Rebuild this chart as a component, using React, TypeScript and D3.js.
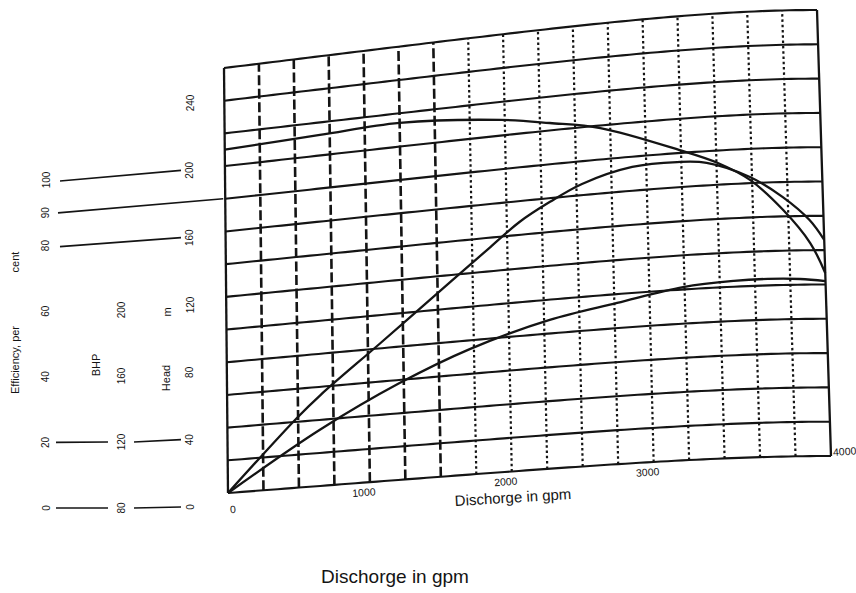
import * as d3 from "d3";

// ---- values ----
// discharge in gpm, head in m
const headFlow = [0, 680, 1250, 1970, 2320, 2680, 3240, 3510, 3735, 3965, 4150, 4250];
const headM = [210, 212.4, 214.2, 209.3, 204.4, 198.5, 181.7, 172.7, 161.9, 143.7, 124.2, 106.7];

// efficiency in per cent
const effFlow = [0, 490, 660, 1090, 1590, 1880, 2090, 2310, 2540, 2900, 3220, 3430, 3735, 3965, 4150, 4250];
const effPct = [0, 21.1, 27.5, 41.6, 57.9, 67.2, 73.8, 78.9, 83.3, 87, 87.4, 86.6, 81.8, 75.6, 68.8, 63];

// brake horse power
const bhpFlow = [0, 650, 1220, 1720, 2290, 2770, 3240, 3600, 3840, 4070, 4250];
const bhpVal = [80, 113.9, 138.1, 154.8, 168, 174.8, 181.4, 183.4, 183.8, 183.3, 182];

const xTicks = [0, 1000, 2000, 3000, 4000];
const effTicks = [0, 20, 40, 60, 80, 90, 100];
const bhpTicks = [80, 120, 160, 200];
const headTicks = [0, 40, 80, 120, 160, 200, 240];

const gridFlow = d3.range(0, 4251, 250);
const gridHead = d3.range(0, 261, 20);

const W = 856;
const H = 593;
const FONT = "'Liberation Sans', Arial, sans-serif";
const INK = "#141414";

// the scanned grid is warped: edges of the plot area on the page
const leftX = [228, 224]; // bottom, top
const rightX = [831, 817];
const bottomY = [493, 456]; // left, right
const topY = [68, 10];

const u = d3.scaleLinear().domain([0, 4250]).range([0, 1]);
const v = d3.scaleLinear().domain([0, 260]).range([0, 1]);
// the rows climb steadily and flatten towards the right edge
const warp = (a: number) => (a - Math.pow(a, 5) / 5) / 0.8;

function proj(q: number, h: number): [number, number] {
  const a = u(q);
  const b = v(h);
  const xl = leftX[0] + b * (leftX[1] - leftX[0]);
  const xr = rightX[0] + b * (rightX[1] - rightX[0]);
  const g = warp(a);
  const yb = bottomY[0] + g * (bottomY[1] - bottomY[0]);
  const yt = topY[0] + g * (topY[1] - topY[0]);
  return [xl + a * (xr - xl), yb + b * (yt - yb)];
}

// left hand label strip
const effY = d3.scaleLinear().domain([0, 100]).range([508, 180]);
const bhpY = d3.scaleLinear().domain([80, 200]).range([508, 310]);
const headY = d3.scaleLinear().domain([0, 240]).range([507, 103]);

const smooth = d3
  .line<[number, number]>()
  .x((d) => d[0])
  .y((d) => d[1])
  .curve(d3.curveCatmullRom.alpha(0.5));
const straight = d3.line<[number, number]>();

const sampleFlow = d3.range(0, 4251, 50);

export default function App() {
  const headPts = headFlow.map((q, i) => proj(q, headM[i]));
  const effPts = effFlow.map((q, i) => proj(q, effPct[i] * 2));
  const bhpPts = bhpFlow.map((q, i) => proj(q, bhpVal[i] - 80));

  const rotText = (x: number, y: number, s: string, size = 10) => (
    <text
      x={x}
      y={y}
      transform={`rotate(-90 ${x} ${y})`}
      textAnchor="middle"
      dominantBaseline="central"
      fontSize={size}
      fontFamily={FONT}
      fill={INK}
    >
      {s}
    </text>
  );

  const pointer = (x1: number, y1: number, x2: number, y2: number) => (
    <line x1={x1} y1={y1} x2={x2} y2={y2} stroke={INK} strokeWidth={1.7} />
  );

  return (
    <svg
      width={W}
      height={H}
      style={{ position: "absolute", left: 0, top: 0, background: "#fff" }}
    >
      <rect width={W} height={H} fill="#fff" />

      {/* vertical grid: dashed up to 1500 gpm, dotted after */}
      {gridFlow.map((q, i) => {
        const [x1, y1] = proj(q, 0);
        const [x2, y2] = proj(q, 260);
        const border = i === 0 || i === gridFlow.length - 1;
        const dashed = q <= 1500;
        return (
          <line
            key={"v" + i}
            x1={x1}
            y1={y1}
            x2={x2}
            y2={y2}
            stroke={INK}
            strokeWidth={border ? 2.3 : dashed ? 2.6 : 2.2}
            strokeDasharray={border ? undefined : dashed ? "10 3.5" : "2.5 2.8"}
          />
        );
      })}

      {/* horizontal grid */}
      {gridHead.map((h, i) => (
        <path
          key={"h" + i}
          d={straight(sampleFlow.map((q) => proj(q, h))) ?? ""}
          fill="none"
          stroke={INK}
          strokeWidth={2.1}
        />
      ))}

      {/* head, efficiency and BHP curves */}
      <path d={smooth(headPts) ?? ""} fill="none" stroke={INK} strokeWidth={2.3} />
      <path d={smooth(effPts) ?? ""} fill="none" stroke={INK} strokeWidth={2.3} />
      <path d={smooth(bhpPts) ?? ""} fill="none" stroke={INK} strokeWidth={2.3} />

      {/* discharge tick labels */}
      {xTicks.map((q) => {
        const last = q === 4000;
        const [x, y] = proj(last ? 4250 : q, 0);
        const lx = last ? x + 2 : q === 0 ? x + 5 : x - 6;
        const ly = last ? y - 4 : q === 0 ? y + 16 : y + 10;
        return (
          <text
            key={"x" + q}
            x={lx}
            y={ly}
            textAnchor={last ? "start" : "middle"}
            dominantBaseline="central"
            fontSize={10.5}
            fontFamily={FONT}
            fill={INK}
            transform={`rotate(-4 ${lx} ${ly})`}
          >
            {q}
          </text>
        );
      })}
      <text
        x={513}
        y={497}
        textAnchor="middle"
        dominantBaseline="central"
        fontSize={15}
        fontFamily={FONT}
        fill={INK}
        transform="rotate(-3.5 513 497)"
      >
        Dischorge in gpm
      </text>

      {/* left label strip */}
      {effTicks.map((e) => (
        <g key={"e" + e}>{rotText(46, effY(e), String(e))}</g>
      ))}
      {bhpTicks.map((b) => (
        <g key={"b" + b}>{rotText(121, bhpY(b), String(b))}</g>
      ))}
      {headTicks.map((h) => (
        <g key={"hd" + h}>{rotText(190, headY(h), String(h))}</g>
      ))}

      {[0, 20].map((e) => (
        <g key={"p" + e}>
          {pointer(56, effY(e), 108, bhpY(e * 2 + 80))}
          {pointer(134, bhpY(e * 2 + 80), 181, headY(e * 2))}
        </g>
      ))}
      {[80, 100].map((e) => (
        <g key={"q" + e}>{pointer(60, effY(e) + 1, 181, headY(e * 2))}</g>
      ))}
      {pointer(58, effY(90), proj(0, 180)[0] - 2, proj(0, 180)[1])}

      {rotText(15, 360, "Efficiency, per", 11)}
      {rotText(15, 262, "cent", 11)}
      {rotText(96, 365, "BHP", 11)}
      {rotText(166, 378, "Head", 11)}
      {rotText(167, 312, "m", 11)}

      <text
        x={395}
        y={576}
        textAnchor="middle"
        dominantBaseline="central"
        fontSize={19}
        fontFamily={FONT}
        fill={INK}
      >
        Dischorge in gpm
      </text>
    </svg>
  );
}
